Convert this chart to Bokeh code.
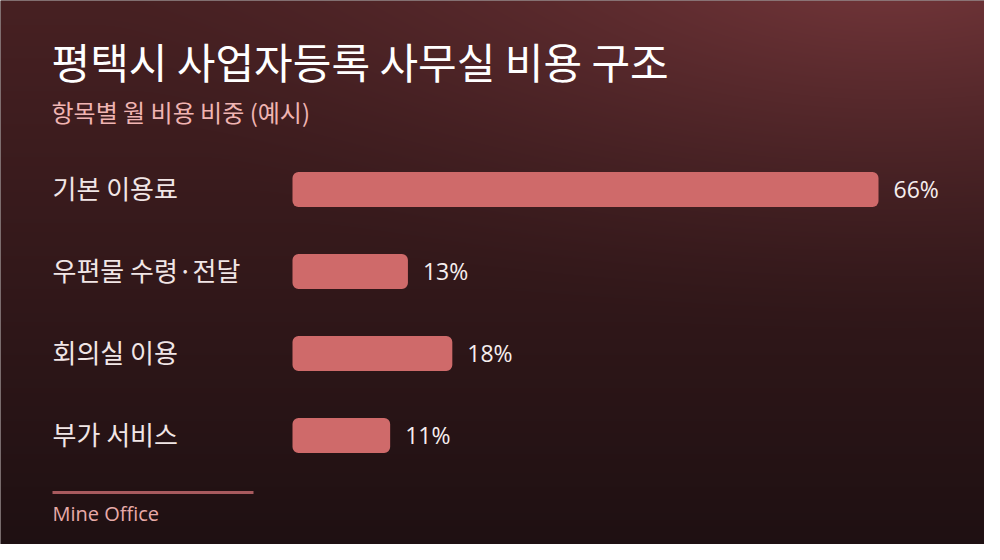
import numpy as np
from bokeh.plotting import figure
from bokeh.models import Range1d
from bokeh.core.properties import value
from bokeh.embed import file_html
from bokeh.resources import INLINE

# ---- data ----
categories = ["기본 이용료", "우편물 수령·전달", "회의실 이용", "부가 서비스"]
shares = [66, 13, 18, 11]
value_labels = [f"{v}%" for v in shares]
title_text = "평택시 사업자등록 사무실 비용 구조"
subtitle_text = "항목별 월 비용 비중 (예시)"
source_text = "Mine Office"

# ---- layout (screen px of 1000x560 window) ----
W, H = 984, 544
WIN_H = 560
FONT = "Noto Sans CJK KR"
LATIN = "Open Sans"
BAR_X0, BAR_X66 = 300, 886
ROW0, ROW_STEP, BAR_H = 197, 82, 35


def sy(v):
    return WIN_H - v


p = figure(width=W, height=H, output_backend="svg", toolbar_location=None,
           x_range=Range1d(8, 992), y_range=Range1d(sy(552), sy(8)),
           min_border=0, outline_line_color=None)
p.axis.visible = False
p.grid.visible = False
p.background_fill_color = "#2c1719"
p.border_fill_color = "#2c1719"

# value range: 0 at BAR_X0, 66 at BAR_X66
k = (BAR_X66 - BAR_X0) / 66.0
p.extra_x_ranges = {"val": Range1d(-(BAR_X0 - 8) / k, (992 - BAR_X0) / k)}

# ---- background gradient ----
yy, xx = np.mgrid[0:H, 0:W]
sx_ = xx + 8.0
sy_ = (H - 1 - yy) + 8.0  # row 0 is bottom
t = np.clip(sy_ / WIN_H, 0, 1)[..., None]
top = np.array([72, 33, 35], float)
bot = np.array([30, 16, 18], float)
base = top * (1 - t) + bot * t
d = np.sqrt(((sx_ - 900) / 800.0) ** 2 + ((sy_ + 30) / 380.0) ** 2)
g = (np.clip(1 - d, 0, 1) ** 1.5)[..., None]
col = np.clip(base + g * np.array([45, 22, 24], float), 0, 255).astype(np.uint32)
img = (255 << 24) | (col[..., 2] << 16) | (col[..., 1] << 8) | col[..., 0]
p.image_rgba(image=[img.astype(np.uint32)], x=8, y=sy(552), dw=W, dh=H)

# ---- bars ----
rows = [sy(ROW0 + i * ROW_STEP) for i in range(len(categories))]
p.hbar(y=rows, left=0, right=shares, height=BAR_H, x_range_name="val",
       fill_color="#cf6a6a", line_color=None, border_radius=6)

p.text(x=shares, y=[r + 1 for r in rows], text=value_labels, x_range_name="val",
       x_offset=15, text_font=value(LATIN), text_font_size="23px",
       text_color="#f6eeee", text_baseline="middle", text_align="left")

p.text(x=[60] * len(categories), y=[r + 2 for r in rows], text=categories,
       text_font=value(FONT), text_font_size="26px", text_color="#f1e6e6",
       text_baseline="middle", text_align="left")

# ---- titles ----
p.text(x=[59], y=[sy(68)], text=[title_text], text_font=value(FONT),
       text_font_size="42px", text_color="#ffffff",
       text_baseline="middle", text_align="left")
p.text(x=[59], y=[sy(119)], text=[subtitle_text], text_font=value(FONT),
       text_font_size="24px", text_color="#f0b4b2",
       text_baseline="middle", text_align="left")

# ---- footer ----
p.line(x=[60, 261], y=[sy(500), sy(500)], line_color="#a85a5e", line_width=3)
p.text(x=[60], y=[sy(521)], text=[source_text], text_font=value(LATIN),
       text_font_size="20px", text_color="#e8aaa8",
       text_baseline="middle", text_align="left")

open("out.html", "w").write(file_html(p, INLINE))
